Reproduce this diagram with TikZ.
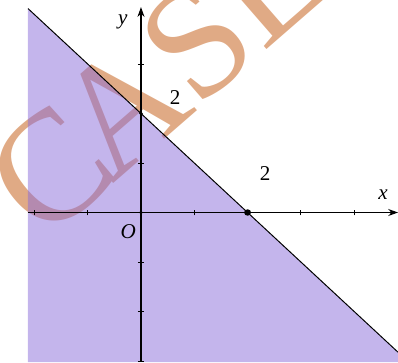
\documentclass[tikz,border=0pt]{standalone}
\usepackage{fontspec}
\setmainfont{Liberation Serif}
\usetikzlibrary{arrows.meta,positioning,calc}

\definecolor{wmark}{RGB}{224,170,133}
\definecolor{region}{RGB}{137,107,217}

\begin{document}
\begin{tikzpicture}[x=1.3325cm, y=1.2375cm,
  axis/.style={line width=0.8pt, -{Stealth[length=7pt,width=5pt]}},
  tick/.style={line width=0.6pt},
  lbl/.style={font=\fontsize{15}{15}\selectfont, inner sep=0pt}]
\useasboundingbox (-2.645,-3.02) rectangle (4.822,4.293);
% watermark
\node[rotate=41, text=wmark, font=\fontsize{112}{112}\selectfont, inner sep=0pt] (wm) at (0.4cm,3.375cm) {C\kern-0.1em ASE};
% points of the boundary line x+y=2
\coordinate (P) at (-2.12,4.12);
\coordinate (Q) at (4.822,-2.822);
\coordinate (A) at (0,2);
\coordinate (B) at (2,0);
\coordinate (O) at (0,0);
% half plane x+y<=2
\fill[region, opacity=0.5] (P) -- (Q) -- (4.822,-3.02) -- (-2.12,-3.02) -- cycle;
% axes
\coordinate (xl) at (-2.12,0);
\coordinate (xr) at (4.822,0);
\coordinate (yb) at (0,-3.0);
\coordinate (yt) at (0,4.15);
\draw[axis] (xl) -- (xr);
\draw[axis] (yb) -- (yt);
\foreach \i in {-2,-1,1,3,4} \draw[tick] (\i,-0.06) -- (\i,0.06);
\foreach \j in {-3,-2,-1,1,3} \draw[tick] (-0.06,\j) -- (0.06,\j);
\draw[line width=0.7pt] (P) -- (Q);
\fill (B) circle (0.065);
\fill (A) circle (0.035);
\fill (O) circle (0.035);
% labels
\node[lbl] (two1) at (0.64,2.32) {2};
\node[lbl] (two2) at (2.33,0.78) {2};
\node[lbl] (xlab) at (4.54,0.37) {\textit{x}};
\node[lbl] (ylab) at (-0.34,3.85) {\textit{y}};
\node[lbl] (olab) at (-0.24,-0.39) {\textit{O}};
\end{tikzpicture}
\end{document}
